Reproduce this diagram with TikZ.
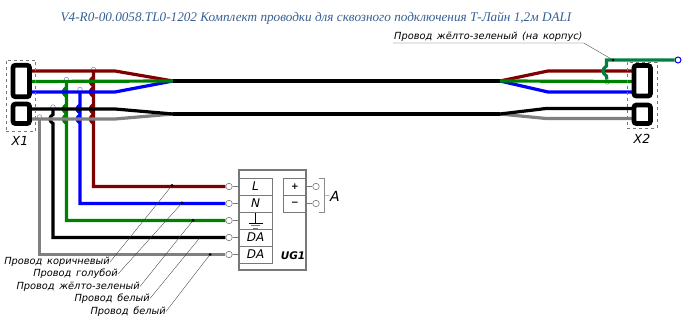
\documentclass[tikz,border=0pt]{standalone}
\usepackage{fontspec}
\setmainfont{Liberation Serif}
\newfontfamily\gostfont[WordSpace=1.5]{DejaVu Sans}
\usepackage{tikz}
\definecolor{wred}{RGB}{128, 0, 0}
\definecolor{wgreen}{RGB}{0, 128, 0}
\definecolor{wteal}{RGB}{0, 128, 64}
\definecolor{wblue}{RGB}{0, 0, 255}
\definecolor{wgray}{RGB}{128, 128, 128}
\definecolor{cc}{RGB}{120, 120, 120}
\definecolor{tt}{RGB}{54, 95, 145}
\definecolor{pp}{RGB}{130, 130, 200}
\tikzset{
  wire/.style={line width=3.2pt},
  hop/.style={out=215, in=145, looseness=1.5},
  frame/.style={draw=black, line width=4.8pt, rounded corners=2.5pt, minimum width=16.5pt, inner sep=0pt},
  dashbox/.style={draw=cc, dashed, line width=0.5pt, inner sep=0pt},
  term/.style={circle, minimum size=6.5pt, inner sep=0pt, fill=white, draw=cc, line width=0.6pt},
  tap/.style={circle, minimum size=4.5pt, inner sep=0pt, fill=white, draw=pp, line width=0.5pt},
  cell/.style={draw=cc, line width=0.7pt, minimum height=17pt, inner sep=0pt, font=\gostfont\itshape\fontsize{12}{12}\selectfont},
  lab/.style={inner sep=0pt, font=\gostfont\itshape\fontsize{9.8}{10}\selectfont},
  lead/.style={line width=0.35pt, color=black!75},
  dot/.style={circle, fill=black, minimum size=3pt, inner sep=0pt},
}
\begin{document}
\begin{tikzpicture}
\useasboundingbox (0pt, 0pt) rectangle (694pt, -320pt);
\node (title) [text=tt, inner sep=0pt, font=\itshape\fontsize{13.2}{14}\selectfont] at (316pt, -18pt) {V4-R0-00.0058.TL0-1202 Комплект проводки для сквозного подключения Т-Лайн 1,2м DALI};
% terminals of UG1
\node (tL) [term] at (229pt, -186.5pt) {};
\node (tN) [term] at (229pt, -203.5pt) {};
\node (tE) [term] at (229pt, -220.5pt) {};
\node (tD1) [term] at (229pt, -237.5pt) {};
\node (tD2) [term] at (229pt, -254.5pt) {};
\node (tP) [term] at (316pt, -186.5pt) {};
\node (tM) [term] at (316pt, -203.5pt) {};
% taps
\node (s1) [tap] at (93.5pt, -69.5pt) {};
\node (s2) [tap] at (80pt, -89.5pt) {};
\node (s3) [tap] at (66.5pt, -79.5pt) {};
\node (s4) [tap] at (53pt, -107pt) {};
\node (s5) [tap] at (39.5pt, -117pt) {};
\node (s6) [tap] at (607pt, -82pt) {};
\node (gnd) [circle, minimum size=6pt, inner sep=0pt, draw=wblue, line width=1pt, fill=white] at (678pt, -60pt) {};
% wires down to UG1, hopping over the harness
\draw [wire, color=wred] (s1) foreach \y in {81.5,92,109,119} { -- (93.5pt, -\y pt+4.5pt) to [hop] (93.5pt, -\y pt-4.5pt)} |- (tL);
\draw [wire, color=wblue] (s2) foreach \y in {109,119} { -- (80pt, -\y pt+4pt) to [hop] (80pt, -\y pt-4pt)} |- (tN);
\draw [wire, color=wgreen] (s3) foreach \y in {92,109,119} { -- (66.5pt, -\y pt+4.5pt) to [hop] (66.5pt, -\y pt-4.5pt)} |- (tE);
\draw [wire, color=black] (s4) -- (53pt, -114.5pt) to [hop] (53pt, -123.5pt) |- (tD1);
\draw [wire, color=wgray] (s5) |- (tD2);
% trunk
\coordinate (j1) at (173pt, -81pt);
\coordinate (j2) at (173pt, -114pt);
\coordinate (k1) at (500pt, -81pt);
\coordinate (k2) at (500pt, -114pt);
% left side
\coordinate (a1) at (30pt, -71pt);
\coordinate (a2) at (30pt, -81.5pt);
\coordinate (a3) at (30pt, -92pt);
\coordinate (a4) at (30pt, -109pt);
\coordinate (a5) at (30pt, -119pt);
\draw [wire, color=wred] (a1) -- (115pt, -71pt) -- (j1);
\draw [wire, color=wblue] (a3) -- (115pt, -92pt) -- (j1);
\draw [wire, color=wgreen] (a2) -- (j1);
\draw [wire, color=wgray] (a5) -- (115pt, -119pt) -- (j2);
\draw [wire, color=black] (a4) -- (115pt, -109pt) -- (j2);
% right side
\coordinate (b1) at (632pt, -71pt);
\coordinate (b2) at (632pt, -81.5pt);
\coordinate (b3) at (632pt, -92pt);
\coordinate (b4) at (632pt, -108.5pt);
\coordinate (b5) at (632pt, -118.5pt);
\draw [wire, color=wred] (k1) -- (548pt, -71pt) -- (b1);
\draw [wire, color=wblue] (k1) -- (548pt, -92pt) -- (b3);
\draw [wire, color=wgreen] (k1) -- (b2);
\draw [wire, color=wgray] (k2) -- (546pt, -118.5pt) -- (b5);
\draw [wire, color=black] (k2) -- (546pt, -108.5pt) -- (b4);
\draw [wire, color=black] (j1) to (k1);
\draw [wire, color=black] (j2) to (k2);
\draw [wire, color=wteal] (gnd) -- (606.5pt, -60pt) -- (606.5pt, -66pt) to [hop] (606.5pt, -76pt) -- (s6);
% connectors
\node (X1a) [frame, minimum height=31.5pt] at (21.25pt, -81pt) {};
\node (X1b) [frame, minimum height=19.5pt] at (21.25pt, -113.8pt) {};
\node (X2a) [frame, minimum height=30.5pt] at (642.2pt, -80.8pt) {};
\node (X2b) [frame, minimum height=18.5pt] at (642.2pt, -114.3pt) {};
\node (X1) [dashbox, minimum width=29.5pt, minimum height=71.5pt] at (20.75pt, -95.75pt) {};
\node (X2) [dashbox, minimum width=30pt, minimum height=66pt] at (642pt, -95pt) {};
\node (nX1) [lab, font=\gostfont\itshape\fontsize{12.5}{13}\selectfont] at (20pt, -140.5pt) {X1};
\node (nX2) [lab, font=\gostfont\itshape\fontsize{12.5}{13}\selectfont] at (642pt, -138.5pt) {X2};
% UG1
\node (UG1) [draw=cc, line width=1.3pt, minimum width=67pt, minimum height=100pt, inner sep=0pt] at (272.5pt, -220pt) {};
\node (cL) [cell, minimum width=33pt] at (255.5pt, -186.5pt) {L};
\node (cN) [cell, minimum width=33pt] at (255.5pt, -203.5pt) {N};
\node (cE) [cell, minimum width=33pt] at (255.5pt, -220.5pt) {};
\node (cD1) [cell, minimum width=33pt] at (255.5pt, -237.5pt) {DA};
\node (cD2) [cell, minimum width=33pt] at (255.5pt, -254.5pt) {DA};
\node (cP) [cell, minimum width=23.5pt] at (295pt, -186.5pt) {\bfseries\fontsize{9}{9}\selectfont +};
\node (cM) [cell, minimum width=23.5pt] at (295pt, -203.5pt) {\bfseries\fontsize{9}{9}\selectfont −};
\node (nUG) [lab, font=\gostfont\bfseries\itshape\fontsize{10.5}{11}\selectfont] at (293pt, -255.5pt) {UG1};
% ground sign
\coordinate (g0) at (255.5pt, -213pt);
\coordinate (g1) at (255.5pt, -223pt);
\draw [line width=0.6pt, color=black] (g0) to (g1);
\draw [line width=0.6pt, color=black] (248.5pt, -223pt) -- (262.5pt, -223pt);
\draw [line width=0.6pt, color=cc] (251pt, -225.5pt) -- (260pt, -225.5pt);
\draw [line width=0.6pt, color=cc] (253pt, -228pt) -- (258pt, -228pt);
% stubs and bracket
\draw [line width=0.6pt, color=cc] (tL) to (cL.west);
\draw [line width=0.6pt, color=cc] (tN) to (cN.west);
\draw [line width=0.6pt, color=cc] (tE) to (cE.west);
\draw [line width=0.6pt, color=cc] (tD1) to (cD1.west);
\draw [line width=0.6pt, color=cc] (tD2) to (cD2.west);
\draw [line width=0.6pt, color=cc] (tP) to (cP.east);
\draw [line width=0.6pt, color=cc] (tM) to (cM.east);
\node (nA) [lab, font=\gostfont\itshape\fontsize{14}{14}\selectfont] at (335pt, -196pt) {A};
\draw [line width=0.5pt, color=black!45] (319pt, -178pt) -- (324pt, -178pt) -- (324pt, -212pt) -- (319pt, -212pt);
\draw [line width=0.5pt, color=black!45] (324pt, -195pt) to (nA.west);
% leaders
\node (d1) [dot] at (172pt, -185.5pt) {};
\node (d2) [dot] at (182pt, -203pt) {};
\node (d3) [dot] at (193pt, -220.5pt) {};
\node (d4) [dot] at (200pt, -237.5pt) {};
\node (d5) [dot] at (210pt, -254.5pt) {};
\node (l1) [lab, anchor=east] at (110pt, -262pt) {Провод коричневый};
\node (l2) [lab, anchor=east] at (118pt, -274pt) {Провод голубой};
\node (l3) [lab, anchor=east] at (140pt, -286.5pt) {Провод жёлто-зеленый};
\node (l4) [lab, anchor=east] at (150pt, -298.5pt) {Провод белый};
\node (l5) [lab, anchor=east] at (166pt, -311.5pt) {Провод белый};
\draw [lead] (l1.east) to (d1);
\draw [lead] (l2.east) to (d2);
\draw [lead] (l3.east) to (d3);
\draw [lead] (l4.east) to (d4);
\draw [lead] (l5.east) to (d5);
\node (l6) [lab, anchor=south west, inner sep=1pt] at (393pt, -43pt) {Провод жёлто-зеленый (на корпус)};
\node (d6) [dot] at (613pt, -60pt) {};
\draw [lead] (l6.south west) -- (l6.south east) -- (d6);
\end{tikzpicture}
\end{document}
